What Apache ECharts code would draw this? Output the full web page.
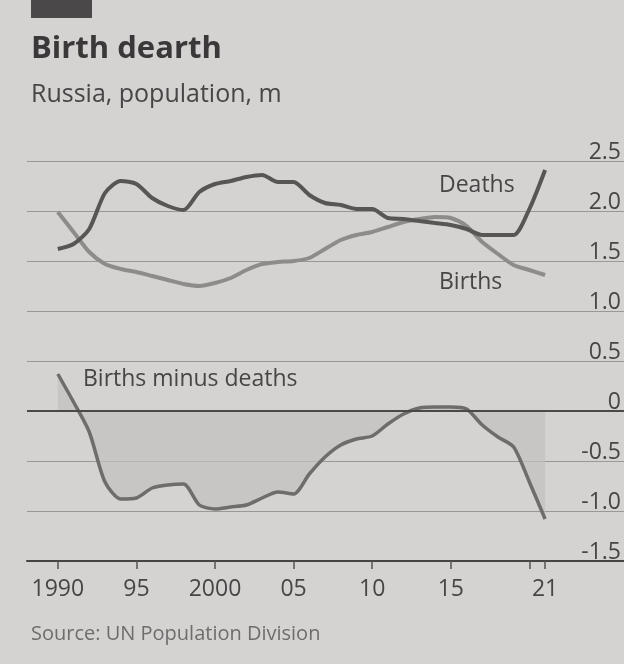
<!DOCTYPE html>
<html>
<head>
<meta charset="utf-8">
<script src="https://cdn.jsdelivr.net/npm/echarts@6/dist/echarts.min.js"></script>
<style>
  html, body { margin: 0; padding: 0; background: #d5d2d2; }
  #chart { width: 624px; height: 664px; }
</style>
</head>
<body>
<div id="chart"></div>
<script>
// ---- data (millions) ----
const years = [1990,1991,1992,1993,1994,1995,1996,1997,1998,1999,2000,2001,2002,2003,2004,2005,2006,2007,2008,2009,2010,2011,2012,2013,2014,2015,2016,2017,2018,2019,2020,2021];
const deaths = [1.62,1.67,1.82,2.18,2.30,2.27,2.13,2.05,2.01,2.19,2.27,2.30,2.34,2.36,2.29,2.29,2.16,2.08,2.06,2.02,2.02,1.93,1.92,1.90,1.88,1.86,1.82,1.76,1.76,1.76,2.02,2.41];
const births = [1.99,1.79,1.59,1.47,1.42,1.39,1.35,1.31,1.27,1.25,1.28,1.33,1.41,1.47,1.49,1.50,1.53,1.62,1.71,1.76,1.79,1.84,1.89,1.92,1.94,1.93,1.85,1.69,1.57,1.46,1.41,1.36];
const netChange = [0.37,0.09,-0.21,-0.71,-0.88,-0.87,-0.77,-0.74,-0.73,-0.94,-0.98,-0.96,-0.94,-0.87,-0.81,-0.83,-0.63,-0.46,-0.34,-0.28,-0.25,-0.13,-0.03,0.03,0.04,0.04,0.02,-0.14,-0.26,-0.36,-0.71,-1.08];
const xTicks = [1990,1995,2000,2005,2010,2015,2020,2021];
const xLabelValues = [1990,1995,2000,2005,2010,2015,2021];
const xLabelText = {1990:'1990',1995:'95',2000:'2000',2005:'05',2010:'10',2015:'15',2021:'21'};
const yTickLabels = {'-1.5':'-1.5','-1':'-1.0','-0.5':'-0.5','0':'0','0.5':'0.5','1':'1.0','1.5':'1.5','2':'2.0','2.5':'2.5'};

const pairs = arr => years.map((y, i) => [y, arr[i]]);

const FONT = '"Open Sans", "Noto Sans", sans-serif';
const TXT = '#474545';

const chart = echarts.init(document.getElementById('chart'), null, {renderer: 'canvas'});
chart.setOption({
  backgroundColor: '#d5d2d2',
  animation: false,
  title: [
    { text: 'Birth dearth', left: 26, top: 29, textStyle: { fontFamily: FONT, fontWeight: 'bold', fontSize: 31, color: '#3a3838' } },
    { text: 'Russia, population, m', left: 26, top: 77, textStyle: { fontFamily: FONT, fontWeight: 'normal', fontSize: 25, color: TXT } },
    { text: 'Source: UN Population Division', left: 26, top: 619, textStyle: { fontFamily: FONT, fontWeight: 'normal', fontSize: 20, color: '#6e6c6c' } }
  ],
  graphic: [
    { type: 'rect', left: 31, top: 0, shape: { width: 61, height: 18 }, style: { fill: '#4a4848' } },
    { type: 'text', left: 439, top: 174, style: { text: 'Deaths', font: '23px "Open Sans", sans-serif', fill: TXT } },
    { type: 'text', left: 439, top: 271, style: { text: 'Births', font: '23px "Open Sans", sans-serif', fill: TXT } },
    { type: 'text', left: 83, top: 368, style: { text: 'Births minus deaths', font: '23px "Open Sans", sans-serif', fill: TXT } }
  ],
  grid: { left: 27, right: 0, top: 161, bottom: 103, containLabel: false },
  xAxis: {
    type: 'value', min: 1988.04, max: 2026.02,
    splitLine: { show: false },
    axisLine: { show: true, onZero: false, lineStyle: { color: '#444', width: 2 } },
    axisTick: { show: true, customValues: xTicks, length: 8, lineStyle: { color: '#555', width: 1.5 } },
    axisLabel: {
      customValues: xLabelValues, margin: 17,
      fontFamily: FONT, fontSize: 23, color: TXT,
      formatter: v => xLabelText[v] || ''
    }
  },
  yAxis: {
    type: 'value', position: 'right', min: -1.5, max: 2.5, interval: 0.5,
    axisLine: { show: false }, axisTick: { show: false },
    splitLine: { show: true, lineStyle: { color: '#9a9797', width: 1.2 } },
    axisLabel: {
      inside: true, margin: 3, align: 'right', verticalAlign: 'bottom',
      padding: [0, 0, -3, 0],
      fontFamily: FONT, fontSize: 23, color: TXT,
      formatter: v => yTickLabels[String(v)] || String(v)
    }
  },
  series: [
    {
      name: 'Births minus deaths', type: 'line', data: pairs(netChange),
      symbol: 'none', smooth: 0.25,
      lineStyle: { color: '#6f6c6c', width: 3.5 },
      areaStyle: { color: '#c2bfbf', origin: 0 },
      markLine: {
        silent: true, symbol: 'none', label: { show: false },
        lineStyle: { color: '#4a4848', width: 2, type: 'solid' },
        data: [{ yAxis: 0 }]
      },
      z: 2
    },
    {
      name: 'Births', type: 'line', data: pairs(births),
      symbol: 'none', smooth: 0.25,
      lineStyle: { color: '#8e8b8b', width: 4 }, z: 3
    },
    {
      name: 'Deaths', type: 'line', data: pairs(deaths),
      symbol: 'none', smooth: 0.25,
      lineStyle: { color: '#585555', width: 4 }, z: 4
    }
  ]
});
</script>
</body>
</html>
